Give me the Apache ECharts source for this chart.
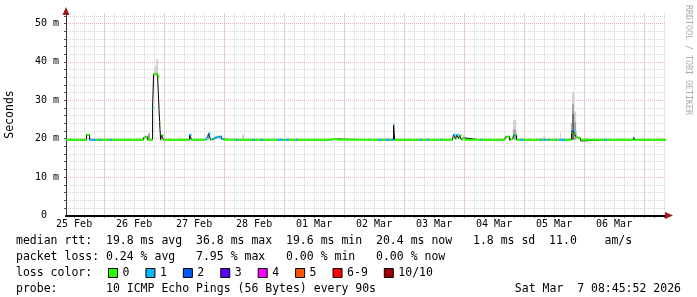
<!DOCTYPE html>
<html><head><meta charset="utf-8">
<script src="https://cdn.jsdelivr.net/npm/echarts@6/dist/echarts.min.js"></script>
<style>html,body{margin:0;padding:0;background:#fff}#c{width:697px;height:297px}</style>
</head><body><div id="c"></div>
<script>
// ---- time frame (hours since 25 Feb 00:00) ----
const START_H = 8 + 45 / 60 + 52 / 3600;   // 25 Feb 08:45:52
const END_H = START_H + 240;               // 7 Mar 08:45:52
const DATA_END_H = 248.7;

// ---- tick labels ----
const dayLabels = ['25 Feb', '26 Feb', '27 Feb', '28 Feb', '01 Mar', '02 Mar', '03 Mar', '04 Mar', '05 Mar', '06 Mar'];
const dayLabelHours = [12, 36, 60, 84, 108, 132, 156, 180, 204, 228];
const yLabelValues = [0, 10, 20, 30, 40, 50];

// ---- loss legend ----
const lossNames = ['0', '1', '2', '3', '4', '5', '6-9', '10/10'];
const lossColors = ['#26ff00', '#00b8ff', '#0059ff', '#5e00ff', '#ff00ff', '#ff5500', '#ff0000', '#a10000'];

// ---- median rtt runs (start hour, median ms, loss level index) ----
const runStart = [8.8, 17.0, 18.2, 20.6, 21.8, 22.6, 26.2, 27.0, 39.8, 40.6, 41.4, 43.4, 43.8, 45.4, 46.2, 46.6, 47.0, 47.8,
  58.2, 59.0, 64.6, 65.4, 65.8, 66.6, 67.4, 68.2, 69.0, 69.8, 70.2, 71.0, 71.8, 76.6, 77.4, 83.4, 84.2, 86.6, 87.4,
  93.4, 95.4, 96.6, 97.8, 100.6, 101.4, 115.0, 117.4, 133.8, 135.0, 136.6, 138.2, 139.0, 139.8, 140.2,
  150.2, 151.0, 153.0, 153.8, 158.6, 159.0, 163.4, 163.8, 164.6, 165.0, 165.8, 166.2, 167.0, 167.4, 168.2,
  174.6, 175.0, 184.2, 184.6, 185.4, 186.2, 186.6, 187.4, 187.8, 188.2, 189.0, 190.6, 191.8, 198.2, 199.0,
  199.8, 200.6, 201.4, 202.2, 204.6, 205.0, 206.2, 208.2, 211.0, 211.4, 212.2, 212.6, 213.4, 214.6, 215.0,
  224.2, 225.0, 235.8, 236.2];
const runMedian = [19.7, 21.0, 19.7, 19.7, 19.7, 19.7, 19.7, 19.7, 20.3, 20.6, 19.7, 27.9, 36.8, 36.2, 24.4, 19.7, 20.9, 19.7,
  21.0, 19.7, 19.9, 20.5, 21.3, 19.7, 20.0, 20.3, 20.5, 20.2, 20.6, 19.9, 19.7, 19.7, 19.7, 19.7, 19.7, 19.7, 19.7,
  19.7, 19.7, 19.7, 19.7, 19.7, 19.7, 19.9, 19.7, 19.7, 19.7, 19.7, 19.7, 19.7, 23.6, 19.7,
  19.7, 19.7, 19.7, 19.7, 19.7, 19.7, 20.3, 21.0, 19.9, 21.0, 20.0, 20.9, 19.7, 20.2, 19.7,
  19.7, 19.7, 20.0, 20.5, 20.6, 19.6, 19.9, 20.1, 20.9, 21.0, 19.7, 19.7, 19.7, 19.7, 19.7,
  19.7, 19.7, 19.7, 19.7, 19.7, 19.7, 19.7, 19.7, 21.5, 22.2, 21.3, 20.6, 20.1, 19.4, 19.7,
  19.7, 19.7, 20.3, 19.7];
const runLoss = [0, 0, 1, 0, 1, 0, 1, 0, 0, 0, 0, 1, 0, 0, 0, 0, 0, 0,
  1, 0, 1, 1, 1, 0, 1, 1, 1, 1, 1, 1, 0, 1, 0, 1, 0, 1, 0,
  1, 0, 1, 0, 1, 0, 0, 0, 1, 0, 1, 0, 1, 1, 0,
  1, 0, 1, 0, 1, 0, 0, 1, 0, 1, 0, 0, 0, 0, 0,
  1, 0, 0, 0, 0, 0, 0, 0, 1, 0, 0, 1, 0, 1, 0,
  1, 0, 1, 0, 1, 0, 1, 0, 0, 1, 0, 0, 0, 0, 0,
  1, 0, 1, 0];

// ---- smoke (ping spread): start hour, end hour, low ms, high ms, shade ----
const smokeStart = [41.6, 44.0, 44.8, 54.2, 65.6, 76.0, 79.4, 96.8, 167.6, 187.6, 187.6, 199.8, 206.4, 210.8, 211.2, 212.0, 212.8, 211.2, 212.0, 211.2, 239.2];
const smokeEnd   = [42.4, 44.8, 45.6, 54.6, 66.0, 76.4, 79.8, 97.2, 168.4, 188.8, 188.8, 200.2, 206.8, 211.2, 212.0, 212.8, 213.2, 212.0, 212.8, 212.0, 239.6];
const smokeLow   = [19.7, 36.8, 36.2, 19.7, 19.7, 19.7, 19.7, 19.7, 19.7, 19.7, 19.7, 19.7, 19.7, 19.7, 19.7, 19.7, 19.7, 19.7, 19.7, 19.7, 19.7];
const smokeHigh  = [21.4, 38.8, 40.6, 20.6, 21.6, 20.2, 21.1, 20.5, 20.9, 24.9, 22.4, 20.6, 21.7, 24.0, 32.1, 27.0, 22.0, 29.0, 24.3, 26.5, 20.5];
const smokeShade = [1, 0, 0, 0, 1, 1, 1, 0, 0, 0, 1, 1, 0, 1, 0, 0, 0, 1, 1, 2, 0];
const smokeColors = ['#cfcfcf', '#a6a6a6', '#6e6e6e'];

// ---- legend / text rows ----
const rowRtt = 'median rtt:  19.8 ms avg  36.8 ms max  19.6 ms min  20.4 ms now   1.8 ms sd  11.0    am/s';
const rowLoss = 'packet loss: 0.24 % avg   7.95 % max   0.00 % min   0.00 % now';
const rowColor = 'loss color:';
const rowProbe = 'probe:       10 ICMP Echo Pings (56 Bytes) every 90s';
const rowDate = 'Sat Mar  7 08:45:52 2026';
const watermark = 'RRDTOOL / TOBI OETIKER';

// ---- grid helpers ----
const minorX = []; for (let h = 12; h < END_H; h += 4) minorX.push(h);
const majorX = []; for (let h = 24; h < END_H; h += 24) majorX.push(h);
const minorY = []; for (let v = 2; v <= 52; v += 2) minorY.push(v);
const majorY = [10, 20, 30, 40, 50];

const MONO = "'DejaVu Sans Mono', monospace";

const runs = runStart.map((s, i) => ({
  s, e: i + 1 < runStart.length ? runStart[i + 1] : DATA_END_H, v: runMedian[i], l: runLoss[i]
}));
const stepData = runs.map(r => [r.s, r.v]).concat([[DATA_END_H, runs[runs.length - 1].v]]);

const smokeData = smokeStart.map((s, i) => [s, smokeEnd[i], smokeLow[i], smokeHigh[i], smokeShade[i]])
  .sort((a, b) => a[4] - b[4]);

function segItem(params, api) {
  const p0 = api.coord([api.value(0), api.value(2)]);
  const p1 = api.coord([api.value(1), api.value(2)]);
  return { type: 'line', shape: { x1: p0[0], y1: p0[1], x2: p1[0], y2: p1[1] },
    style: { stroke: api.visual('color'), lineWidth: 2, lineCap: 'butt' } };
}
function smokeItem(params, api) {
  const a = api.coord([api.value(0), api.value(3)]);
  const b = api.coord([api.value(1), api.value(2)]);
  return { type: 'rect', shape: { x: a[0], y: a[1], width: b[0] - a[0], height: b[1] - a[1] },
    style: { fill: smokeColors[api.value(4)] } };
}

const hiddenAxisParts = { axisLabel: { show: false }, axisTick: { show: false }, axisLine: { show: false } };

const chart = echarts.init(document.getElementById('c'), null, { renderer: 'canvas', width: 697, height: 297 });
chart.setOption({
  animation: false,
  backgroundColor: '#ffffff',
  grid: { left: 66, right: 31, top: 13.5, bottom: 81.5, containLabel: false, outerBoundsMode: 'none' },
  title: [
    { text: rowRtt, left: 16, top: 235 },
    { text: rowLoss, left: 16, top: 251 },
    { text: rowColor, left: 16, top: 267 },
    { text: rowProbe, left: 16, top: 283 },
    { text: rowDate, right: 16, top: 283 }
  ].map(t => Object.assign(t, { padding: 0, textStyle: { fontFamily: MONO, fontSize: 11.5, fontWeight: 'normal', color: '#000', lineHeight: 12 } })),
  legend: {
    data: lossNames, left: 108, top: 267, padding: 0, itemGap: 16, itemWidth: 9, itemHeight: 9,
    icon: 'rect', selectedMode: false,
    itemStyle: { borderColor: '#000', borderWidth: 1 },
    textStyle: { fontFamily: MONO, fontSize: 11.5, color: '#000', lineHeight: 12 }
  },
  graphic: [{
    type: 'text', x: 688, y: 5, rotation: -Math.PI / 2, silent: true,
    style: { text: watermark, font: "8.3px 'DejaVu Sans Mono'", fill: '#ababab', align: 'left', verticalAlign: 'middle' }
  }],
  xAxis: [
    { type: 'value', gridIndex: 0, position: 'bottom', min: START_H, max: END_H,
      axisLine: { show: true, lineStyle: { color: '#000', width: 2 } },
      axisTick: { show: true, customValues: minorX, length: 2, lineStyle: { color: '#000' } },
      axisLabel: { show: true, customValues: dayLabelHours, margin: 4, fontFamily: MONO, fontSize: 10, color: '#000',
        formatter: v => dayLabels[dayLabelHours.indexOf(v)] },
      splitLine: { show: true, lineStyle: { color: '#d2d2d2', width: 1, type: [1, 1] } } },
    Object.assign({ type: 'value', gridIndex: 0, position: 'bottom', min: START_H, max: END_H,
      splitLine: { show: true, lineStyle: { color: '#eeaaaa', width: 1, type: [1, 1] } } }, hiddenAxisParts,
      { axisTick: { show: false, customValues: majorX } }),
    { type: 'value', gridIndex: 0, position: 'bottom', min: START_H, max: END_H,
      axisLine: { show: true, symbol: ['none', 'triangle'], symbolSize: [7, 8], symbolOffset: [0, 3], lineStyle: { color: '#9b1b1b', width: 0 } },
      axisTick: { show: false }, axisLabel: { show: false }, splitLine: { show: false } }
  ],
  yAxis: [
    { type: 'value', gridIndex: 0, position: 'left', min: 0, max: 52.6,
      name: 'Seconds', nameLocation: 'middle', nameGap: 50, nameRotate: 90,
      nameTextStyle: { fontFamily: MONO, fontSize: 11.5, color: '#000' },
      axisLine: { show: true, lineStyle: { color: '#333', width: 1 } },
      axisTick: { show: true, customValues: minorY, length: 2, lineStyle: { color: '#555' } },
      axisLabel: { show: true, customValues: yLabelValues, margin: 7, fontFamily: MONO, fontSize: 10, color: '#000',
        formatter: v => (v === 0 ? '0  ' : v + ' m') },
      splitLine: { show: true, lineStyle: { color: '#d2d2d2', width: 1, type: [1, 1] } } },
    Object.assign({ type: 'value', gridIndex: 0, position: 'left', min: 0, max: 52.6,
      splitLine: { show: true, lineStyle: { color: '#eeaaaa', width: 1, type: [1, 1] } } }, hiddenAxisParts,
      { axisTick: { show: false, customValues: majorY } }),
    { type: 'value', gridIndex: 0, position: 'left', min: 0, max: 52.6,
      axisLine: { show: true, symbol: ['none', 'triangle'], symbolSize: [7, 8], symbolOffset: [0, 2.5], lineStyle: { color: '#9b1b1b', width: 0 } },
      axisTick: { show: false }, axisLabel: { show: false }, splitLine: { show: false } }
  ],
  series: [
    { type: 'custom', name: 'smoke', xAxisIndex: 0, yAxisIndex: 0, z: 2, silent: true, clip: true,
      encode: { x: [0, 1], y: [2, 3] }, data: smokeData, renderItem: smokeItem },
    { type: 'line', name: 'median', xAxisIndex: 0, yAxisIndex: 0, z: 3, silent: true, step: 'end',
      symbol: 'none', showSymbol: false, lineStyle: { color: '#000', width: 1 }, data: stepData }
  ].concat(lossNames.map((name, i) => ({
    type: 'custom', name, xAxisIndex: 0, yAxisIndex: 0, z: 4, silent: true, clip: true,
    itemStyle: { color: lossColors[i] }, encode: { x: [0, 1], y: 2 },
    data: runs.filter(r => r.l === i).map(r => [r.s, r.e, r.v]),
    renderItem: segItem
  })))
});
</script>
</body></html>
